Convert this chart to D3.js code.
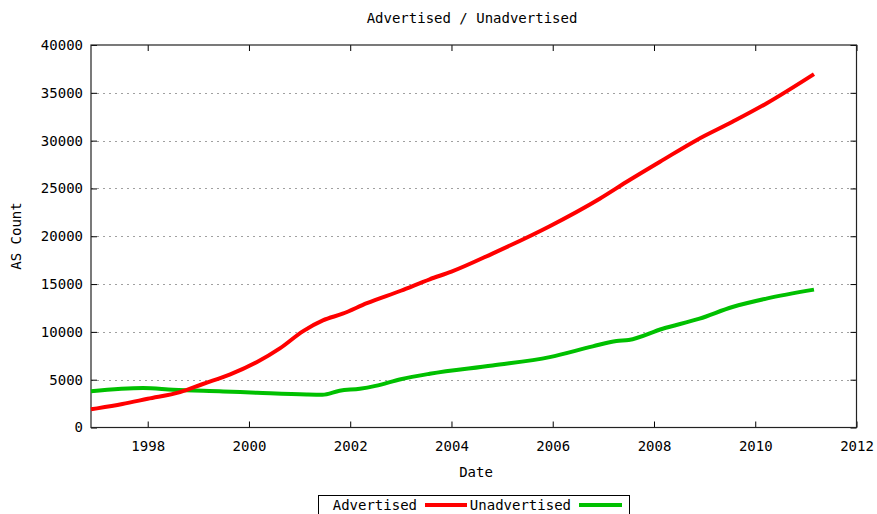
<!DOCTYPE html>
<html>
<head>
<meta charset="utf-8">
<script src="https://cdn.jsdelivr.net/npm/d3@7"></script>
<style>
  html, body { margin: 0; padding: 0; background: #fff; }
  svg text { font-family: "DejaVu Sans Mono", "Liberation Mono", monospace; font-size: 14px; fill: #000; }
</style>
</head>
<body>
<svg id="chart" width="877" height="514"></svg>
<script>
// ---- Data (decimal year, AS count) ----
const advYears = [1996.88, 1997.0, 1997.5, 1998.0, 1998.64, 1999.09, 1999.63, 2000.16, 2000.61, 2001.07, 2001.46, 2001.85, 2002.33, 2003.0, 2003.57, 2004.0, 2004.81, 2005.94, 2006.92, 2007.51, 2008.17, 2008.84, 2009.55, 2010.22, 2011.16];
const advValues = [1900, 2000, 2450, 3000, 3700, 4550, 5550, 6850, 8270, 10080, 11200, 11900, 13000, 14300, 15500, 16300, 18190, 21050, 23900, 25860, 27960, 30050, 31970, 33890, 36960];

const unadvYears = [1996.88, 1997.91, 1998.5, 1999.49, 2000.16, 2001.14, 2001.45, 2001.79, 2002.19, 2002.5, 2003.0, 2003.57, 2004.81, 2005.94, 2006.79, 2007.26, 2007.5, 2008.17, 2008.9, 2009.55, 2010.22, 2011.16];
const unadvValues = [3780, 4120, 3950, 3770, 3630, 3450, 3430, 3850, 4050, 4350, 5050, 5620, 6490, 7360, 8480, 9050, 9150, 10330, 11380, 12600, 13480, 14420];

const xTicks = [1998, 2000, 2002, 2004, 2006, 2008, 2010, 2012];
const yTicks = [0, 5000, 10000, 15000, 20000, 25000, 30000, 35000, 40000];
const seriesNames = ["Advertised", "Unadvertised"];
const seriesColors = ["#ff0000", "#00c000"];
const titleText = "Advertised / Unadvertised";
const xLabel = "Date";
const yLabel = "AS Count";

// ---- Layout ----
const L = 91, R = 856.5, T = 45, B = 427.5;
const svg = d3.select("#chart");
const x = d3.scaleLinear().domain([1996.88, 2012]).range([L, R]);
const y = d3.scaleLinear().domain([0, 40000]).range([B, T]);

// grid
svg.append("g").selectAll("line")
  .data(yTicks.filter(v => v > 0 && v < 40000))
  .join("line")
  .attr("x1", L).attr("x2", R)
  .attr("y1", d => Math.round(y(d)) + 0.5).attr("y2", d => Math.round(y(d)) + 0.5)
  .attr("stroke", "#a0a0a0").attr("stroke-width", 1)
  .attr("stroke-dasharray", "2,4");

// axes: bottom/top/left/right with inward ticks
const tick = 6;
const axB = svg.append("g").attr("transform", `translate(0,${B})`)
  .call(d3.axisBottom(x).tickValues(xTicks).tickFormat(d3.format("d")).tickSizeInner(-tick).tickSizeOuter(0).tickPadding(15));
const axT = svg.append("g").attr("transform", `translate(0,${T})`)
  .call(d3.axisTop(x).tickValues(xTicks).tickFormat("").tickSizeInner(-tick).tickSizeOuter(0));
const axL = svg.append("g").attr("transform", `translate(${L},0)`)
  .call(d3.axisLeft(y).tickValues(yTicks).tickFormat(d3.format("d")).tickSizeInner(-tick).tickSizeOuter(0).tickPadding(15));
const axR = svg.append("g").attr("transform", `translate(${R},0)`)
  .call(d3.axisRight(y).tickValues(yTicks).tickFormat("").tickSizeInner(-tick).tickSizeOuter(0));
[axB, axT, axL, axR].forEach(g => {
  g.select(".domain").remove();
  g.selectAll("line").attr("stroke", "#000").attr("stroke-width", 1);
  g.selectAll("text").attr("font-family", null).attr("font-size", null).style("fill", "#000");
});
axL.selectAll("text").attr("x", -8);
axB.selectAll("text").attr("y", 14);

// border
svg.append("rect").attr("x", L).attr("y", T).attr("width", R - L).attr("height", B - T)
  .attr("fill", "none").attr("stroke", "#222").attr("stroke-width", 1.2);

// lines
const line = d3.line().curve(d3.curveMonotoneX).x(d => x(d[0])).y(d => y(d[1]));
const advData = advYears.map((v, i) => [v, advValues[i]]);
const unadvData = unadvYears.map((v, i) => [v, unadvValues[i]]);
svg.append("path").datum(unadvData).attr("d", line)
  .attr("fill", "none").attr("stroke", seriesColors[1]).attr("stroke-width", 4);
svg.append("path").datum(advData).attr("d", line)
  .attr("fill", "none").attr("stroke", seriesColors[0]).attr("stroke-width", 4);

// title and labels
svg.append("text").attr("x", 472).attr("y", 23).attr("text-anchor", "middle").text(titleText);
svg.append("text").attr("x", 476).attr("y", 477).attr("text-anchor", "middle").text(xLabel);
svg.append("text").attr("transform", "translate(21,236) rotate(-90)").attr("text-anchor", "middle").text(yLabel);

// legend
const lg = svg.append("g");
lg.append("rect").attr("x", 318.5).attr("y", 495.5).attr("width", 311).attr("height", 30)
  .attr("fill", "#fff").attr("stroke", "#000").attr("stroke-width", 1);
lg.append("text").attr("x", 417).attr("y", 510).attr("text-anchor", "end").text(seriesNames[0]);
lg.append("line").attr("x1", 425).attr("x2", 467).attr("y1", 505).attr("y2", 505)
  .attr("stroke", seriesColors[0]).attr("stroke-width", 4);
lg.append("text").attr("x", 571).attr("y", 510).attr("text-anchor", "end").text(seriesNames[1]);
lg.append("line").attr("x1", 579).attr("x2", 622).attr("y1", 505).attr("y2", 505)
  .attr("stroke", seriesColors[1]).attr("stroke-width", 4);
</script>
</body>
</html>
